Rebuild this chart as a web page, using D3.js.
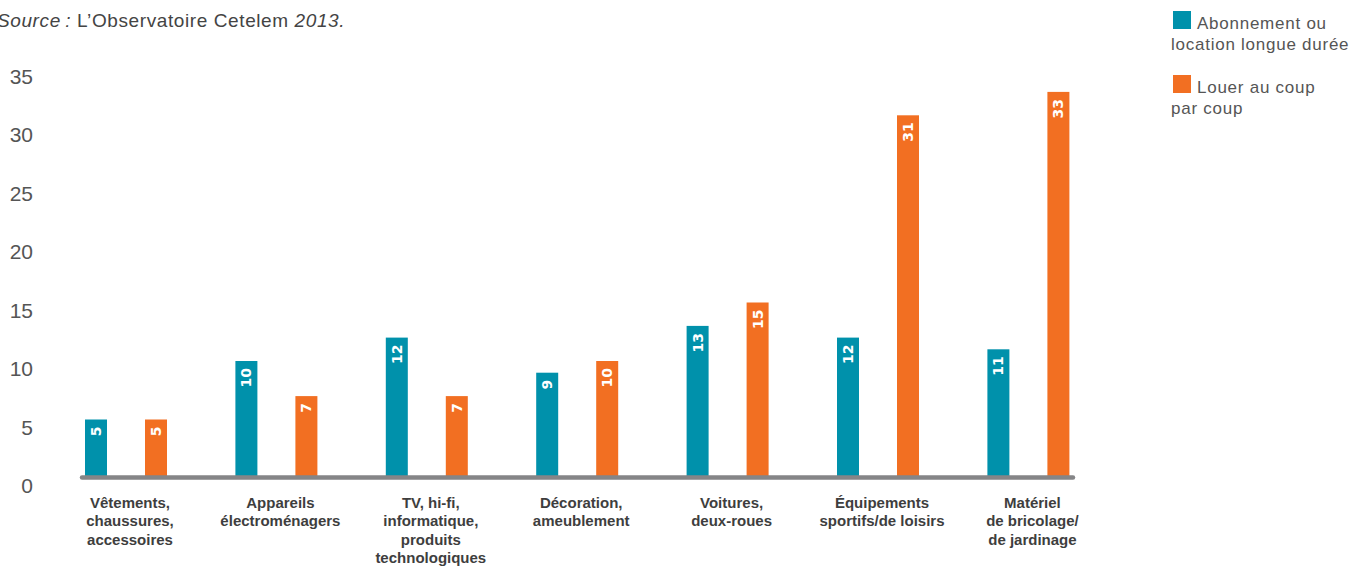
<!DOCTYPE html>
<html>
<head>
<meta charset="utf-8">
<script src="https://cdn.jsdelivr.net/npm/d3@7"></script>
<style>
  html, body { margin: 0; padding: 0; background: #fff; }
  svg { display: block; }
</style>
</head>
<body>
<svg id="chart" width="1354" height="566"></svg>
<script>
// Categories (multi-line labels)
const categories = [
  ["Vêtements,", "chaussures,", "accessoires"],
  ["Appareils", "électroménagers"],
  ["TV, hi-fi,", "informatique,", "produits", "technologiques"],
  ["Décoration,", "ameublement"],
  ["Voitures,", "deux-roues"],
  ["Équipements", "sportifs/de loisirs"],
  ["Matériel", "de bricolage/", "de jardinage"]
];
const abonnement = [5, 10, 12, 9, 13, 12, 11];
const louerAuCoup = [5, 7, 7, 10, 15, 31, 33];
const seriesNames = [["Abonnement ou", "location longue durée"], ["Louer au coup", "par coup"]];
const yTicks = [0, 5, 10, 15, 20, 25, 30, 35];

const colors = ["#0091ab", "#f26f22"];
const svg = d3.select("#chart");

const keys = categories.map((c, i) => "c" + i);
const x = d3.scaleBand().domain(keys).range([55, 55 + 150.4 * 7]).padding(0);
const y = d3.scaleLinear().domain([0, 35]).range([478, 478 - 409.5]);
const barW = 22;
const offsets = [30, 90];

// Source line
const src = svg.append("text")
  .attr("x", -3).attr("y", 27)
  .attr("font-family", "Liberation Sans, Arial, sans-serif")
  .attr("font-size", 19).attr("letter-spacing", 0.6)
  .attr("fill", "#444");
src.append("tspan").attr("font-style", "italic").text("Source\u2009:");
src.append("tspan").text(" L\u2019Observatoire Cetelem ");
src.append("tspan").attr("font-style", "italic").text("2013.");

// Y axis labels
const yAxis = d3.axisLeft(y).tickValues(yTicks).tickSize(0).tickPadding(0);
const gy = svg.append("g").attr("transform", "translate(33,0)").call(yAxis);
gy.select(".domain").remove();
gy.selectAll("text")
  .attr("font-family", "Liberation Sans, Arial, sans-serif")
  .attr("font-size", 21)
  .attr("fill", "#555")
  .attr("dy", null)
  .attr("y", 14.5);

// Bars
const series = [abonnement, louerAuCoup];
series.forEach((vals, s) => {
  const g = svg.append("g");
  g.selectAll("rect").data(vals).join("rect")
    .attr("x", (d, i) => x(keys[i]) + offsets[s])
    .attr("width", barW)
    .attr("y", d => y(d))
    .attr("height", d => y(0) - y(d))
    .attr("fill", colors[s]);
  g.selectAll("text").data(vals).join("text")
    .attr("transform", (d, i) => `translate(${x(keys[i]) + offsets[s] + barW / 2 + 5},${y(d) + 7}) rotate(-90)`)
    .attr("text-anchor", "end")
    .attr("font-family", "DejaVu Sans, sans-serif")
    .attr("font-weight", "bold")
    .attr("font-size", 14)
    .attr("fill", "#fff")
    .text(d => d);
});

// Baseline
svg.append("line")
  .attr("x1", 82).attr("x2", 1073)
  .attr("y1", 477.5).attr("y2", 477.5)
  .attr("stroke", "#858587").attr("stroke-width", 4.5)
  .attr("stroke-linecap", "round");

// Category labels
const xAxis = d3.axisBottom(x).tickSize(0).tickFormat("");
const gx = svg.append("g").call(xAxis);
gx.select(".domain").remove();
gx.selectAll(".tick").each(function(k, i) {
  const t = d3.select(this);
  t.attr("transform", `translate(${x(k) + 75},0)`);
  t.select("text").remove();
  const txt = t.append("text")
    .attr("text-anchor", "middle")
    .attr("font-family", "Liberation Sans, Arial, sans-serif")
    .attr("font-weight", "bold")
    .attr("font-size", 15)
    .attr("fill", "#3e3e3e");
  categories[i].forEach((line, j) => {
    txt.append("tspan").attr("x", 0).attr("y", 508 + j * 18.4).text(line);
  });
});

// Legend
const legendY = [11, 75];
seriesNames.forEach((lines, s) => {
  const g = svg.append("g");
  g.append("rect").attr("x", 1173).attr("y", legendY[s]).attr("width", 18).attr("height", 18).attr("fill", colors[s]);
  const t = g.append("text")
    .attr("font-family", "Liberation Sans, Arial, sans-serif")
    .attr("font-size", 17).attr("letter-spacing", 0.75)
    .attr("fill", "#555");
  t.append("tspan").attr("x", 1197).attr("y", legendY[s] + 18).text(lines[0]);
  t.append("tspan").attr("x", 1171).attr("y", legendY[s] + 39).text(lines[1]);
});
</script>
</body>
</html>
